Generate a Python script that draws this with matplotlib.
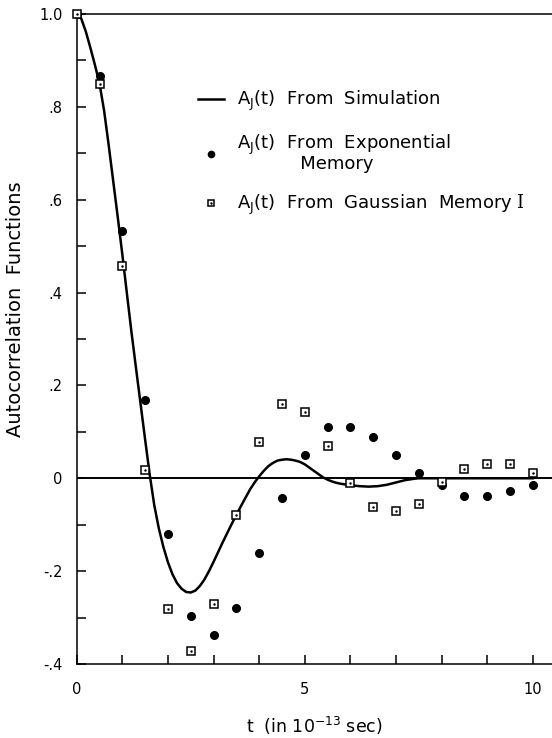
import numpy as np
import matplotlib.pyplot as plt
from matplotlib.lines import Line2D

plt.rcParams['font.family'] = 'DejaVu Sans'
plt.rcParams['mathtext.fontset'] = 'custom'
plt.rcParams['mathtext.rm'] = 'DejaVu Serif'

# simulation curve
t_sim = [0.0, 0.1, 0.2, 0.3, 0.4, 0.5, 0.6, 0.7, 0.8, 0.9, 1.0, 1.1, 1.2, 1.3, 1.4,
         1.5, 1.6, 1.7, 1.8, 1.9, 2.0, 2.1, 2.2, 2.3, 2.4, 2.5, 2.6, 2.7, 2.8, 2.9,
         3.0, 3.1, 3.2, 3.3, 3.4, 3.5, 3.6, 3.7, 3.8, 3.9, 4.0, 4.1, 4.2, 4.3, 4.4,
         4.5, 4.6, 4.7, 4.8, 4.9, 5.0, 5.1, 5.2, 5.3, 5.4, 5.5, 5.6, 5.7, 5.8, 6.0,
         6.2, 6.4, 6.6, 6.8, 7.0, 7.2, 7.4, 7.5, 10.0]
a_sim = [1.000, 0.990, 0.962, 0.927, 0.890, 0.850, 0.792, 0.718, 0.640, 0.562,
         0.482, 0.398, 0.315, 0.237, 0.160, 0.083, 0.008, -0.058, -0.108, -0.148,
         -0.181, -0.207, -0.226, -0.238, -0.245, -0.246, -0.242, -0.232, -0.218,
         -0.200, -0.180, -0.159, -0.138, -0.118, -0.098, -0.079, -0.060, -0.042,
         -0.024, -0.009, 0.004, 0.016, 0.026, 0.033, 0.038, 0.040, 0.041, 0.040,
         0.038, 0.035, 0.030, 0.023, 0.016, 0.009, 0.002, -0.003, -0.007, -0.010,
         -0.012, -0.015, -0.017, -0.018, -0.017, -0.014, -0.009, -0.004, -0.001,
         0.0, 0.0]

# memory function results at every 0.5
t_pts = np.arange(0, 10.01, 0.5)
a_exp = [1.0, 0.866, 0.532, 0.169, -0.120, -0.296, -0.338, -0.280, -0.161, -0.043,
         0.051, 0.110, 0.110, 0.089, 0.051, 0.012, -0.014, -0.038, -0.039, -0.028,
         -0.015]
a_gauss = [1.0, 0.849, 0.458, 0.018, -0.282, -0.373, -0.270, -0.079, 0.079, 0.159,
           0.143, 0.069, -0.011, -0.061, -0.070, -0.056, -0.009, 0.020, 0.030, 0.031,
           0.012]

fig = plt.figure(figsize=(5.52, 7.38), dpi=100)
ax = fig.add_axes([0.139, 0.1003, 0.861, 0.8807])

ax.axhline(0, color='black', lw=1.4, zorder=1)
ax.plot(t_sim, a_sim, color='black', lw=1.8, zorder=2)
ax.plot(t_pts, a_exp, 'o', color='black', ms=5.5, zorder=3, clip_on=False)
ax.plot(t_pts, a_gauss, 's', mfc='white', mec='black', mew=1.1, ms=5.3, zorder=4,
        clip_on=False)
ax.plot(t_pts, a_gauss, '.', color='black', ms=1.5, zorder=5, clip_on=False)

ax.set_xlim(0, 10.42)
ax.set_ylim(-0.4, 1.0)
ax.spines['right'].set_visible(False)
for s in ['left', 'bottom', 'top']:
    ax.spines[s].set_linewidth(1.1)

ax.set_xticks(np.arange(0, 11, 1))
ax.set_xticklabels(['0', '', '', '', '', '5', '', '', '', '', '10'])
ax.set_yticks(np.arange(-0.4, 1.01, 0.1))
ylabs = []
for v in np.arange(-0.4, 1.01, 0.1):
    v = round(v, 1)
    if round(v * 10) % 2:
        ylabs.append('')
    elif v == 0:
        ylabs.append('0')
    elif v == 1.0:
        ylabs.append('1.0')
    else:
        ylabs.append(('%.1f' % v).replace('0.', '.'))
ax.set_yticklabels(ylabs)
ax.tick_params(axis='both', direction='in', length=6.5, width=1.1, labelsize=10.5)
ax.tick_params(axis='y', pad=10)
ax.tick_params(axis='x', pad=13)
ax.tick_params(top=False, right=False)

ax.set_ylabel('Autocorrelation  Functions', fontsize=14)
ax.yaxis.set_label_coords(-0.109, 0.546)
ax.set_xlabel(r't  (in 10$\mathregular{^{-13}}$ sec)', fontsize=12.5, labelpad=13)

h_sim = Line2D([], [], color='black', lw=1.8)
h_exp = Line2D([], [], ls='none', marker='o', color='black', ms=4.5)
h_sq = Line2D([], [], ls='none', marker='s', mfc='white', mec='black', mew=1.1, ms=5)
h_dot = Line2D([], [], ls='none', marker='.', color='black', ms=1.5)
labels = [r'$\mathregular{A_J}$(t)  From  Simulation',
          r'$\mathregular{A_J}$(t)  From  Exponential' + '\n' + '           Memory',
          r'$\mathregular{A_J}$(t)  From  Gaussian  Memory $\mathrm{I}$']
leg = ax.legend([h_sim, h_exp, (h_sq, h_dot)], labels, loc='upper left',
                bbox_to_anchor=(0.222, 0.91), frameon=False, fontsize=13,
                handlelength=1.4, handletextpad=0.75, labelspacing=1.1)
for txt in leg.get_texts():
    txt.set_linespacing(0.85)

fig.savefig('out.png', dpi=100)
